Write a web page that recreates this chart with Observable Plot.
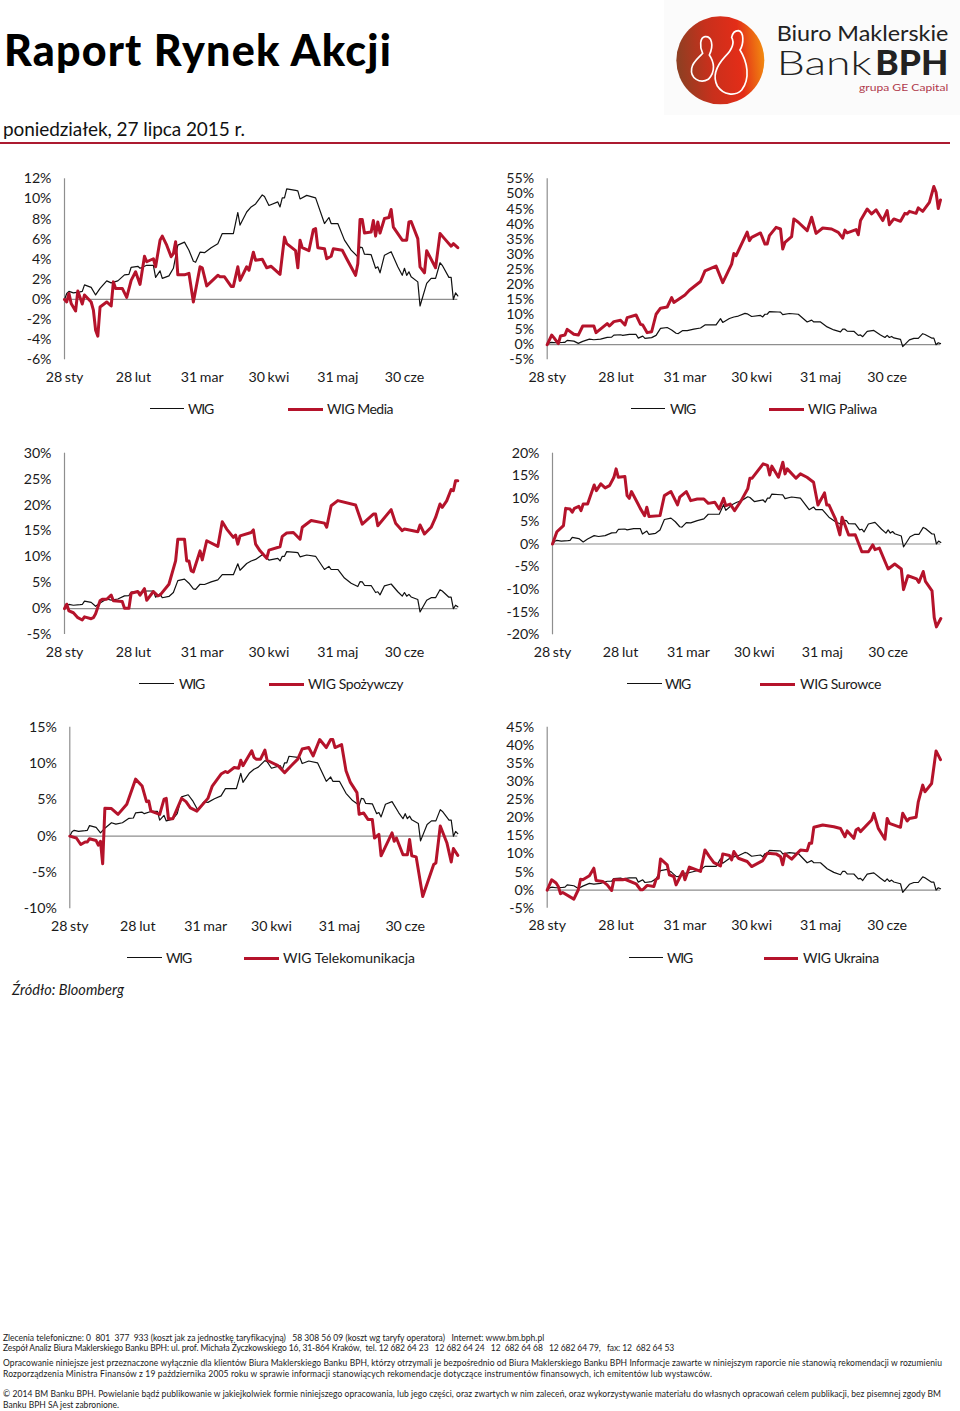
<!DOCTYPE html>
<html lang="pl">
<head>
<meta charset="utf-8">
<script src="https://cdn.jsdelivr.net/npm/d3@7"></script>
<script src="https://cdn.jsdelivr.net/npm/@observablehq/plot@0.6"></script>
<style>
html,body{margin:0;padding:0;background:#fff;overflow:hidden}
#page{position:relative;width:960px;height:1411px;overflow:hidden;font-family:Lato,sans-serif;color:#1a1a1a}
#page>*{position:absolute}
.foot{font-size:8.5px;line-height:10px;white-space:pre;left:3px}
svg{display:block}
</style>
</head>
<body>
<div id="page"></div>
<script>
const tickDates = ["2015-01-28","2015-02-28","2015-03-31","2015-04-30","2015-05-31","2015-06-30"];
const tickLabels = ["28 sty","28 lut","31 mar","30 kwi","31 maj","30 cze"];

const wigDays = [0,1,2,4,7,8,9,12,14,16,19,21,24,27,29,30,33,34,37,40,41,43,44,47,49,51,54,56,58,59,61,63,66,69,71,76,78,79,82,84,86,89,90,92,96,97,98,99,100,104,105,106,109,113,117,119,120,123,126,129,132,133,134,135,138,140,141,142,144,147,150,152,153,154,155,156,159,160,163,165,167,169,170,173,174,175,176,177];
const wigValues = [0,0.6,0.8,0.65,0.75,0.8,1.45,1.2,0.45,1.1,1.85,1.65,1.85,2.45,2.5,3.2,3.3,3.1,3.4,3.4,2.2,2.85,2.1,2.35,3.1,5.4,5.7,4.9,3.8,3.7,4.7,4.65,5.15,5.55,6.55,6.55,8.65,7.4,8.7,9.2,9.5,10.4,10.25,9.35,9.7,9.2,10.1,10.1,11,10.85,10.8,10,10.35,10.1,7.55,8.15,7.55,7.55,5.9,4.9,4.25,5.2,5.15,4.5,4.45,3.1,3.25,2.65,4.4,4.75,3.25,2.4,3.1,2.4,2.75,2.25,1.75,-0.65,1.6,2.1,2.1,3.65,3.4,2.2,2.2,0,0.65,0.35];

const mediaDays = [0,1,2,3,5,6,8,9,12,13,14,15,16,19,21,22,23,26,28,30,32,34,36,37,40,41,43,44,46,48,49,50,51,54,56,58,61,62,64,69,70,72,75,76,78,79,82,83,85,86,89,91,93,97,99,100,104,105,106,107,110,112,113,114,117,118,120,121,125,127,131,132,133,134,135,138,139,140,141,142,144,146,147,148,152,154,155,156,159,160,162,163,167,169,171,174,175,177];
const mediaValues = [0,-0.25,0.6,-0.4,-1.15,0.85,-0.45,0.45,-0.25,-1.05,-3.05,-3.65,-0.75,-0.25,-0.65,1.75,1.1,1.1,0.2,1.9,2.75,1.5,4.3,3.75,4.05,3.25,5.9,6.3,5.4,4.25,4.55,5.75,2.45,2.45,2.6,-0.25,3.25,3.15,1.35,2.4,2.25,2.25,1.3,1.3,3.25,1.9,3.25,2.9,4.7,3.9,4,3.15,3.3,2.5,6.2,5.55,4.85,3.15,5.9,5.15,4.85,6.95,7.05,5.15,5.05,4.05,4.3,5.05,4.9,4.05,2.4,3.55,7.95,7.95,6.6,6.7,7.85,6.3,7.7,6.6,8.05,8.15,8.95,7.2,5.9,5.9,7.7,7.75,6.05,3.25,2.65,4.85,3.15,6.55,6.05,5.3,5.55,5.15];

const paliwaDays = [0,2,3,5,6,8,9,12,14,16,21,22,27,28,30,33,35,36,40,42,43,45,47,49,51,54,56,57,62,64,69,71,76,79,83,84,85,90,91,92,96,98,99,100,103,105,106,107,110,111,113,117,119,121,124,128,131,133,134,135,139,140,141,144,146,148,151,153,154,156,159,161,162,163,166,167,169,172,174,175,176,177];
const paliwaValues = [0,3.2,2.35,0.35,2.9,3.2,5.1,3.45,3.2,6.2,6.2,4,7,6.2,7.65,8.1,6.55,9,9.85,6.75,6.55,4,4.3,10.1,12.1,12.5,15.6,14,16.5,18.05,20.95,24.5,26.05,20.6,26.7,30.25,29.5,37.35,34.5,35.6,37.05,33.35,33.35,36.15,38.9,38.35,31.7,33.9,35.8,41.7,40.6,37.8,42.25,36.9,38.7,38.35,37.25,35.35,38,37.05,38.15,36.45,41.15,45,43.35,44.7,41.15,44.45,39.8,41.7,40.9,43.55,43.35,44.2,43.55,45.35,44.2,47.2,52.45,50.55,45.15,48];

const spozywczyDays = [0,1,2,4,6,8,9,12,13,14,16,17,19,21,22,26,27,29,30,33,34,36,37,40,42,43,47,50,51,54,55,56,57,58,61,62,64,69,71,73,76,77,78,79,84,85,86,88,91,92,97,98,100,103,106,107,111,117,118,120,123,131,134,139,140,141,147,149,152,153,159,160,162,165,167,169,170,172,174,175,176,177];
const spozywczyValues = [0,0.85,-0.45,-0.8,-1.75,-2.2,-1.6,-1.95,-1.75,-1,1.5,1.8,1.8,2.6,1.5,1.35,0.05,0.05,2.95,3.3,2.6,3.85,1.6,3.3,2.45,2.6,4.7,9.2,13.4,13.4,9.2,9.2,7.3,7.1,11.15,9.4,13.1,12,16.75,15.35,13.75,14.2,12.45,14.05,14.7,15.2,12.45,11.15,9.7,11.3,11.95,13.95,14.6,14.7,13.4,15.7,17,16.5,15.7,19.85,20.85,20,16.3,18.25,18.25,16,19.1,16.5,15.05,15.35,14.85,16.15,14.4,15.7,17.6,20.2,19.55,20.8,23,22.75,24.7,24.7];

const surowceDays = [0,2,5,6,8,9,10,12,13,14,16,19,20,22,24,26,28,29,30,33,34,35,36,39,40,42,43,44,49,51,54,57,58,61,63,66,69,71,74,76,78,79,81,83,86,89,90,91,96,98,99,100,103,105,106,107,111,113,116,119,121,124,125,126,129,131,132,135,138,141,144,146,147,149,153,156,159,160,162,166,167,169,170,173,174,175,177];
const surowceValues = [0,2.7,4.05,7.85,7.7,7,7.85,8.3,7.35,8.8,8.8,13,11.75,13.25,12.35,12.85,14.7,16.55,14.7,14.85,10.65,10.05,11.55,8.8,7.85,6.25,8.1,6.05,6.25,10.65,11.55,8.6,10.3,11.55,9.55,9.9,9.9,8.95,9.2,7.7,10.05,8.45,8.8,7.35,9.55,12.15,14.5,14.5,17.65,17.3,15.2,17.15,14.7,18,15.45,16.55,14.5,15.45,14.7,13.6,8.6,11.25,8.6,8.6,5.5,2,5.9,2,2.05,-1.7,-1.7,-0.2,-1.25,-0.9,-5.5,-4.4,-5.5,-10.05,-7,-7.7,-8.45,-6.05,-8.25,-10.3,-16.2,-18.25,-16.4];

const telekomDays = [0,3,5,7,8,9,12,13,14,15,16,19,22,26,30,33,35,36,37,41,43,44,45,47,51,53,55,58,63,65,69,71,72,75,77,78,79,83,84,85,87,89,90,95,98,101,104,106,109,111,114,117,119,120,121,124,126,128,131,132,134,136,138,139,141,142,147,148,149,152,154,155,156,158,161,166,167,169,172,174,175,177];
const telekomValues = [0,-0.25,-1.15,-0.8,-0.8,-0.35,-0.6,-1.25,-0.7,-3.8,3.85,3.8,3,4.4,7.85,6.9,4.75,4.85,3.45,3,5.1,5.2,2.4,2.4,5.2,4.75,3.9,3.45,5.2,6.9,8.55,8.9,8.75,9.45,9.35,10.45,9.7,11.75,10.85,10.6,10.6,11.85,10.45,9.7,8.75,9.7,10.6,12,12.2,11.05,13.3,12.2,13.3,13.3,12.2,12.6,9,7.4,6,3,3.2,2.3,2.3,-0.25,0.25,-2.7,0.45,-0.7,-0.25,-2.55,-2.55,-0.45,-2.7,-2.85,-8.3,-3.9,-3.7,1.4,-0.9,-3.55,-1.7,-2.65];

const ukrainaDays = [0,2,4,5,6,7,12,14,15,16,19,21,22,25,27,29,30,34,35,40,42,43,45,48,49,50,51,54,55,57,58,61,62,64,69,71,73,75,78,79,82,83,84,86,90,92,97,99,103,105,106,107,110,114,117,118,119,120,124,129,132,134,135,138,139,140,141,146,147,149,152,153,154,159,160,162,163,166,167,169,170,173,175,177];
const ukrainaValues = [0,2.85,1.95,1,-1,-0.65,-2.5,0.1,3,2.85,3.95,6.05,2.65,2.4,1.45,-0.1,2.85,2.85,3,1.75,0.1,0.1,1.3,1,3,3.3,8.6,7,4.2,3.75,1.45,5.15,2.85,6.35,5.15,11.1,9.25,7.6,6.7,10,9.55,8.35,10.65,8.8,7.9,6.5,8.15,10.2,10,9.25,7,10,8.55,11.1,10.9,12.95,12.95,17.35,18,17.5,17,14.75,16.35,14.3,16.6,17.05,16.15,19.35,21.2,17.05,14.05,19.8,18.45,17.35,21.2,19.1,19.8,20.1,24.4,29,27.15,29.45,38.45,36.05];

const ticks1 = d3.range(-6,13,2), ticks2 = d3.range(-5,56,5), ticks3 = d3.range(-5,31,5),
      ticks4 = d3.range(-20,21,5), ticks5 = d3.range(-10,16,5), ticks6 = d3.range(-5,46,5);

const panels = [
 {name:"WIG Media", days:mediaDays, values:mediaValues, ticks:ticks1, box:[0,160], frame:[64,457.3,178.3,359.3], legend:409, lg:[150,184,188,288,323,327,393]},
 {name:"WIG Paliwa", days:paliwaDays, values:paliwaValues, ticks:ticks2, box:[480,160], frame:[546.7,940,178.3,359.3], legend:409, lg:[631,665,670,769,804,808,877]},
 {name:"WIG Spożywczy", days:spozywczyDays, values:spozywczyValues, ticks:ticks3, box:[0,435], frame:[64,457.3,452.7,634], legend:684, lg:[139,174,179,269,304,308,403]},
 {name:"WIG Surowce", days:surowceDays, values:surowceValues, ticks:ticks4, box:[480,435], frame:[552,940.3,452.7,634.3], legend:684, lg:[627,662,665,760,795,800,881]},
 {name:"WIG Telekomunikacja", days:telekomDays, values:telekomValues, ticks:ticks5, box:[0,710], frame:[69.3,457.3,726.7,908.3], legend:958, lg:[127,162,166,244,279,283,415]},
 {name:"WIG Ukraina", days:ukrainaDays, values:ukrainaValues, ticks:ticks6, box:[480,710], frame:[546.7,940,726.7,907.7], legend:958, lg:[629,663,667,764,798,803,879]}
];

const page = document.getElementById("page");
const RED = "#b5132b", INK = "#1a1a1a", AXIS = "#8e8e8e", FONT = "Lato, sans-serif";
const start = Date.UTC(2015,0,28);
const toDate = d => new Date(start + d*864e5);
const series = (days, values) => days.map((d,i) => ({date: toDate(d), value: values[i]}));
const wig = series(wigDays, wigValues);

function el(tag, css, text){
  const e = document.createElement(tag);
  e.style.cssText = css;
  if (text != null) e.textContent = text;
  page.appendChild(e);
  return e;
}
function fit(e, width){
  const w = e.getBoundingClientRect().width, n = e.textContent.length;
  e.style.letterSpacing = ((width-w)/n).toFixed(3)+"px";
  return e;
}

for (const p of panels){
  const [bx, by] = p.box, [l, r, t, b] = p.frame, W = 480, H = 262;
  const chart = Plot.plot({
    width: W, height: H,
    marginLeft: l-bx, marginRight: bx+W-r, marginTop: t-by, marginBottom: by+H-b,
    style: {background:"none", fontFamily: FONT, overflow:"visible", wordSpacing:"-1px"},
    x: {type:"utc", domain:[toDate(0), toDate(177)]},
    y: {domain: d3.extent(p.ticks)},
    marks: [
      Plot.axisY({ticks:p.ticks, tickSize:0, tickPadding:13, fontSize:14.2, tickFormat:d=>d+"%", label:null, color:INK}),
      Plot.axisX({ticks:tickDates.map(d=>new Date(d)), tickSize:0, tickPadding:12, fontSize:14.2, tickFormat:(d,i)=>tickLabels[i], label:null, color:INK}),
      Plot.ruleX([toDate(0)], {stroke:AXIS, strokeWidth:1.2}),
      Plot.ruleY([0], {stroke:AXIS, strokeWidth:1.2}),
      Plot.line(wig, {x:"date", y:"value", stroke:"#111", strokeWidth:1.2}),
      Plot.line(series(p.days,p.values), {x:"date", y:"value", stroke:RED, strokeWidth:3})
    ]
  });
  chart.style.cssText += `;position:absolute;left:${bx}px;top:${by}px`;
  page.appendChild(chart);
  const [k0,k1,kt,r0,r1,rt,re] = p.lg, y = p.legend;
  el("div", `left:${k0}px;top:${y-0.6}px;width:${k1-k0}px;border-top:1.2px solid #111`);
  el("div", `left:${r0}px;top:${y-1.5}px;width:${r1-r0}px;border-top:3px solid ${RED}`);
  fit(el("div", `left:${kt}px;top:${y-9}px;font-size:14px;line-height:18px;white-space:pre`, "WIG"), 25);
  fit(el("div", `left:${rt}px;top:${y-9}px;font-size:14px;line-height:18px;white-space:pre`, p.name), re-rt);
}

fit(el("div", `left:4px;top:23.4px;font:900 43px/54px Lato,sans-serif;color:#000;white-space:pre`, "Raport Rynek Akcji"), 388);
fit(el("div", `left:3px;top:117.4px;font-size:19px;line-height:24px;white-space:pre;color:#111`, "poniedziałek, 27 lipca 2015 r."), 242);
el("div", `left:0;top:142px;width:950px;height:2px;background:#ac1a30`);
fit(el("div", `left:12px;top:981px;font-size:14.5px;font-style:italic;line-height:18px;white-space:pre`, "Źródło: Bloomberg"), 112);

const logo = document.createElement("div");
logo.style.cssText = "left:640px;top:0;width:320px;height:115px";
logo.innerHTML = `<svg width="320" height="115" viewBox="0 0 960 345" style="font-family:Lato,sans-serif">
<defs><linearGradient id="lg" x1="0" x2="1" y1="0.3" y2="0.2"><stop offset="0" stop-color="#8f3f22"/><stop offset="0.35" stop-color="#c8301c"/><stop offset="0.7" stop-color="#e32d18"/><stop offset="1" stop-color="#f3930f"/></linearGradient></defs>
<rect x="72" width="888" height="345" fill="#fbfbfb"/>
<circle cx="241" cy="181" r="132" fill="url(#lg)"/>
<path d="M195 110C215 108 222 135 208 165C222 185 228 215 205 238C180 252 150 235 155 205C158 185 178 172 188 160C178 140 180 112 195 110Z" fill="none" stroke="#fff" stroke-width="5"/>
<path d="M295 92C312 95 312 130 300 150C322 185 332 235 305 270C285 290 250 285 232 258C215 225 232 195 255 170C275 150 285 130 275 112C278 98 285 92 295 92Z" fill="none" stroke="#fff" stroke-width="5"/>
<text x="410" y="122" font-size="62" fill="#222" textLength="515" lengthAdjust="spacingAndGlyphs">Biuro Maklerskie</text>
<text x="410" y="226" font-size="100" font-weight="300" fill="#222" textLength="285" lengthAdjust="spacingAndGlyphs">Bank</text>
<text x="706" y="226" font-size="100" font-weight="900" fill="#222" textLength="219" lengthAdjust="spacingAndGlyphs">BPH</text>
<text x="657" y="272" font-size="28" fill="#b03a4c" textLength="268" lengthAdjust="spacingAndGlyphs">grupa GE Capital</text>
</svg>`;
page.appendChild(logo);

const footLines = [
 ["Zlecenia telefoniczne: 0  801  377  933 (koszt jak za jednostkę taryfikacyjną)   58 308 56 09 (koszt wg taryfy operatora)   Internet: www.bm.bph.pl", 1337.5, 544],
 ["Zespół Analiz Biura Maklerskiego Banku BPH: ul. prof. Michała Życzkowskiego 16, 31-864 Kraków,  tel. 12 682 64 23   12 682 64 24   12  682 64 68   12 682 64 79,   fax: 12  682 64 53", 1348, 674],
 ["Opracowanie niniejsze jest przeznaczone wyłącznie dla klientów Biura Maklerskiego Banku BPH, którzy otrzymali je bezpośrednio od Biura Maklerskiego Banku BPH Informacje zawarte w niniejszym raporcie nie stanowią rekomendacji w rozumieniu", 1363.3, 942],
 ["Rozporządzenia Ministra Finansów z 19 października 2005 roku w sprawie informacji stanowiących rekomendacje dotyczące instrumentów finansowych, ich emitentów lub wystawców.", 1373.7, 712],
 ["© 2014 BM Banku BPH. Powielanie bądź publikowanie w jakiejkolwiek formie niniejszego opracowania, lub jego części, oraz zwartych w nim zaleceń, oraz wykorzystywanie materiału do własnych opracowań celem publikacji, bez pisemnej zgody BM", 1394.3, 941],
 ["Banku BPH SA jest zabronione.", 1405, 119]
];
for (const [text, y, right] of footLines){
  const e = el("div", `top:${y-5}px`, text);
  e.className = "foot";
  fit(e, right-3);
}
</script>
</body>
</html>
